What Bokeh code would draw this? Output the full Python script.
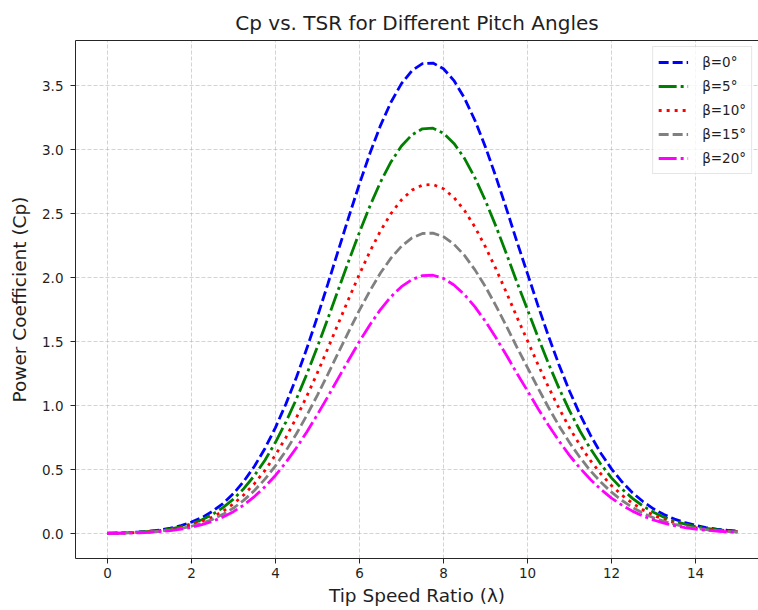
from bokeh.plotting import figure
from bokeh.models import Range1d, FixedTicker, LinearAxis, Legend, LegendItem
from bokeh.embed import file_html
from bokeh.resources import INLINE

# ---- data ----
tsr = [0.0, 0.25, 0.5, 0.75, 1.0, 1.25, 1.5, 1.75, 2.0, 2.25, 2.5, 2.75, 3.0, 3.25, 3.5, 3.75,
       4.0, 4.25, 4.5, 4.75, 5.0, 5.25, 5.5, 5.75, 6.0, 6.25, 6.5, 6.75, 7.0, 7.25, 7.5, 7.75,
       8.0, 8.25, 8.5, 8.75, 9.0, 9.25, 9.5, 9.75, 10.0, 10.25, 10.5, 10.75, 11.0, 11.25, 11.5,
       11.75, 12.0, 12.25, 12.5, 12.75, 13.0, 13.25, 13.5, 13.75, 14.0, 14.25, 14.5, 14.75, 15.0]

cp_beta0 = [0.003, 0.005, 0.007, 0.012, 0.018, 0.028, 0.042, 0.062, 0.089, 0.125, 0.173, 0.234,
            0.312, 0.409, 0.526, 0.665, 0.828, 1.013, 1.221, 1.449, 1.695, 1.952, 2.216, 2.478,
            2.732, 2.971, 3.187, 3.370, 3.515, 3.617, 3.671, 3.676, 3.631, 3.539, 3.402, 3.227,
            3.019, 2.786, 2.537, 2.279, 2.031, 1.781, 1.542, 1.319, 1.114, 0.930, 0.768, 0.626,
            0.505, 0.404, 0.319, 0.250, 0.193, 0.148, 0.113, 0.085, 0.064, 0.047, 0.035, 0.026,
            0.019]
cp_beta5 = [0.002, 0.004, 0.006, 0.010, 0.016, 0.024, 0.036, 0.053, 0.076, 0.108, 0.149, 0.202,
            0.269, 0.352, 0.453, 0.573, 0.713, 0.872, 1.052, 1.248, 1.460, 1.681, 1.909, 2.135,
            2.353, 2.559, 2.746, 2.903, 3.028, 3.115, 3.162, 3.167, 3.128, 3.048, 2.931, 2.779,
            2.600, 2.400, 2.185, 1.963, 1.750, 1.534, 1.328, 1.136, 0.960, 0.801, 0.662, 0.540,
            0.435, 0.348, 0.275, 0.215, 0.166, 0.128, 0.097, 0.073, 0.055, 0.041, 0.030, 0.022,
            0.016]
cp_beta10 = [0.002, 0.003, 0.005, 0.009, 0.014, 0.021, 0.031, 0.046, 0.066, 0.093, 0.128, 0.174,
             0.232, 0.303, 0.390, 0.493, 0.614, 0.751, 0.906, 1.075, 1.257, 1.448, 1.644, 1.838,
             2.027, 2.204, 2.364, 2.500, 2.607, 2.683, 2.723, 2.727, 2.694, 2.625, 2.524, 2.394,
             2.239, 2.067, 1.882, 1.690, 1.507, 1.321, 1.144, 0.979, 0.826, 0.690, 0.570, 0.465,
             0.375, 0.299, 0.237, 0.185, 0.143, 0.110, 0.084, 0.063, 0.047, 0.035, 0.026, 0.019,
             0.014]
cp_beta15 = [0.002, 0.003, 0.005, 0.008, 0.012, 0.018, 0.027, 0.039, 0.057, 0.080, 0.110, 0.150,
             0.199, 0.261, 0.336, 0.425, 0.529, 0.647, 0.780, 0.925, 1.082, 1.246, 1.415, 1.582,
             1.745, 1.897, 2.035, 2.152, 2.244, 2.310, 2.344, 2.347, 2.319, 2.260, 2.173, 2.060,
             1.928, 1.779, 1.620, 1.455, 1.297, 1.137, 0.985, 0.842, 0.711, 0.594, 0.490, 0.400,
             0.323, 0.258, 0.204, 0.159, 0.123, 0.095, 0.072, 0.054, 0.041, 0.030, 0.022, 0.016,
             0.012]
cp_beta20 = [0.001, 0.002, 0.004, 0.006, 0.010, 0.015, 0.023, 0.034, 0.049, 0.069, 0.095, 0.129,
             0.171, 0.224, 0.289, 0.365, 0.454, 0.556, 0.670, 0.795, 0.930, 1.071, 1.216, 1.360,
             1.500, 1.631, 1.750, 1.850, 1.929, 1.985, 2.015, 2.018, 1.993, 1.942, 1.867, 1.771,
             1.657, 1.529, 1.393, 1.251, 1.115, 0.977, 0.846, 0.724, 0.611, 0.511, 0.422, 0.344,
             0.277, 0.222, 0.175, 0.137, 0.106, 0.081, 0.062, 0.047, 0.035, 0.026, 0.019, 0.014,
             0.010]

series_labels = ["β=0°", "β=5°", "β=10°", "β=15°", "β=20°"]
x_ticks = [0, 2, 4, 6, 8, 10, 12, 14]
x_tick_labels = ["0", "2", "4", "6", "8", "10", "12", "14"]
y_ticks = [0.0, 0.5, 1.0, 1.5, 2.0, 2.5, 3.0, 3.5]
y_tick_labels = ["0.0", "0.5", "1.0", "1.5", "2.0", "2.5", "3.0", "3.5"]

# ---- styles ----
colors = ["#0000ff", "#008000", "#ff0000", "#808080", "#ff00ff"]
dashes = ["10 4", "18 4 3 4", "3 5", "10 4", "18 4 3 4"]
FONT = "DejaVu Sans"
TEXT = "#1f1f1f"

p = figure(width=758, height=610, output_backend="svg", toolbar_location=None,
           x_range=Range1d(-0.76, 15.5), y_range=Range1d(-0.195, 3.852),
           min_border_left=75, min_border_right=0, min_border_top=40, min_border_bottom=52,
           title="Cp vs. TSR for Different Pitch Angles")
p.outline_line_color = None
p.background_fill_color = "white"
p.border_fill_color = "white"

p.title.align = "center"
p.title.text_font = FONT
p.title.text_font_size = "20px"
p.title.text_font_style = "normal"
p.title.text_color = TEXT
p.title.standoff = 12

# grid
for g in (p.xgrid, p.ygrid):
    g.grid_line_color = "#b0b0b0"
    g.grid_line_alpha = 0.7
    g.grid_line_width = 0.8
    g.grid_line_dash = "4 2"
p.xgrid.ticker = FixedTicker(ticks=x_ticks)
p.ygrid.ticker = FixedTicker(ticks=y_ticks)

# axes
p.xaxis.ticker = FixedTicker(ticks=x_ticks)
p.yaxis.ticker = FixedTicker(ticks=y_ticks)
p.xaxis.major_label_overrides = dict(zip(x_ticks, x_tick_labels))
p.yaxis.major_label_overrides = dict(zip(y_ticks, y_tick_labels))
p.xaxis.axis_label = "Tip Speed Ratio (λ)"
p.yaxis.axis_label = "Power Coefficient (Cp)"
for ax in (p.xaxis[0], p.yaxis[0]):
    ax.axis_line_color = "#262626"
    ax.axis_line_width = 1
    ax.major_tick_line_color = "#262626"
    ax.major_tick_out = 5
    ax.major_tick_in = 0
    ax.minor_tick_line_color = None
    ax.major_label_text_font = FONT
    ax.major_label_text_font_size = "13.5px"
    ax.major_label_text_color = TEXT
    ax.axis_label_text_font = FONT
    ax.axis_label_text_font_size = "18.5px"
    ax.axis_label_text_font_style = "normal"
    ax.axis_label_text_color = TEXT
p.xaxis.major_label_standoff = 4
p.xaxis.axis_label_standoff = 4
p.yaxis.major_label_standoff = 7
p.yaxis.axis_label_standoff = 9

# top spine
top = LinearAxis(ticker=FixedTicker(ticks=[]), axis_line_color="#262626", axis_line_width=1,
                 major_tick_out=0, major_tick_in=0, minor_tick_out=0, minor_tick_in=0,
                 major_label_text_font_size="0px")
p.add_layout(top, "above")

series = [cp_beta0, cp_beta5, cp_beta10, cp_beta15, cp_beta20]
items = []
for vals, c, d, lab in zip(series, colors, dashes, series_labels):
    r = p.line(tsr, vals, line_color=c, line_width=2.8, line_dash=d)
    items.append(LegendItem(label=lab, renderers=[r]))

legend = Legend(items=items, location="top_right", margin=6, padding=5, spacing=4,
                glyph_width=30, glyph_height=20, label_height=20, label_standoff=14,
                label_text_font=FONT, label_text_font_size="13.5px", label_text_color=TEXT,
                border_line_color="#cccccc", border_line_width=1,
                background_fill_color="white", background_fill_alpha=0.8)
p.add_layout(legend)

open("out.html", "w").write(file_html(p, INLINE))
